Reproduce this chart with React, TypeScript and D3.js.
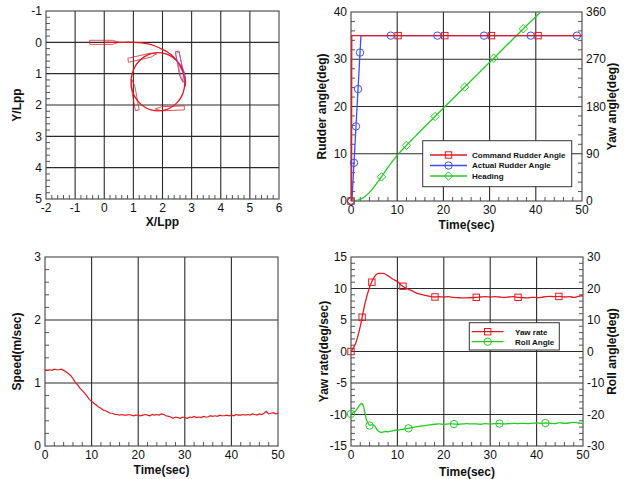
import React from "react";
import * as d3 from "d3";

// ---------------- Panel 1: trajectory ----------------
const trajectory: [number, number][] = [
  [0, 0], [0.5, 0], [1.0, 0.0], [1.3, 0.02], [1.62, 0.07], [1.92, 0.19], [2.17, 0.31], [2.37, 0.46],
  [2.52, 0.62], [2.63, 0.8], [2.72, 1.0], [2.76, 1.2], [2.75, 1.45], [2.655, 1.725], [2.508, 1.918],
  [2.315, 2.065], [2.091, 2.158], [1.85, 2.19], [1.609, 2.158], [1.385, 2.065], [1.192, 1.918],
  [1.045, 1.725], [0.952, 1.501], [0.92, 1.26], [0.952, 1.019], [1.045, 0.795], [1.192, 0.602],
  [1.385, 0.455], [1.609, 0.362], [1.85, 0.33], [2.091, 0.362], [2.32, 0.46], [2.51, 0.61],
  [2.66, 0.8], [2.76, 1.03], [2.79, 1.27], [2.77, 1.42],
];
const shipX = [0, 2.6, 2.25, 1.04, 1.31, 2.63];
const shipY = [0, 0.78, 2.11, 1.68, 0.47, 0.82];
const shipHeading = [0, 79, 178, 259, 348, 76];
const trajXTicks = [-2, -1, 0, 1, 2, 3, 4, 5, 6];
const trajYTicks = [-1, 0, 1, 2, 3, 4, 5];

// ---------------- Panel 2: rudder / heading ----------------
const cmdTime = [0, 0.12, 0.16, 50];
const cmdAngle = [0, 0, 35, 35];
const cmdMarkT = [0, 10.2, 20.3, 30.4, 40.5];
const actTime = [0, 0.2, 2.15, 50];
const actAngle = [0, 0, 35, 35];
const actMarkT = [0, 0.65, 1.08, 1.52, 1.95, 8.6, 18.7, 28.8, 38.9, 48.9];
const headTime = [0, 1, 2, 3, 4, 5, 6, 6.6, 8, 10, 12, 14, 16, 18.2, 20, 24.6, 30.9, 37.3, 41.5];
const headAngle = [0, 0.6, 3, 8.5, 16.5, 27, 39, 46, 64, 87, 106, 124, 142, 161, 177, 217, 272, 328, 364];
const headMarkT = [0, 6.6, 12.0, 18.2, 24.6, 30.9, 37.3];
const timeTicks = [0, 10, 20, 30, 40, 50];
const rudderTicks = [0, 10, 20, 30, 40];
const yawTicks = [0, 90, 180, 270, 360];

// ---------------- Panel 3: speed ----------------
const speedTime = d3.range(0, 50.001, 0.5);
const speedValues = [
  1.21, 1.20, 1.21, 1.20, 1.22, 1.21, 1.21, 1.22, 1.20, 1.18,
  1.15, 1.12, 1.07, 1.01, 0.97, 0.92, 0.88, 0.84, 0.79, 0.74,
  0.71, 0.68, 0.65, 0.62, 0.60, 0.57, 0.56, 0.54, 0.52, 0.52,
  0.50, 0.50, 0.49, 0.50, 0.49, 0.49, 0.50, 0.49, 0.48, 0.49,
  0.49, 0.48, 0.49, 0.50, 0.49, 0.48, 0.50, 0.49, 0.50, 0.49,
  0.51, 0.50, 0.48, 0.47, 0.46, 0.44, 0.46, 0.45, 0.44, 0.46,
  0.45, 0.44, 0.46, 0.45, 0.47, 0.45, 0.46, 0.45, 0.47, 0.46,
  0.46, 0.48, 0.47, 0.48, 0.47, 0.49, 0.48, 0.48, 0.49, 0.48,
  0.49, 0.48, 0.50, 0.49, 0.49, 0.50, 0.49, 0.50, 0.49, 0.51,
  0.50, 0.49, 0.51, 0.50, 0.52, 0.55, 0.51, 0.52, 0.53, 0.51,
  0.52,
];
const speedTicks = [0, 1, 2, 3];

// ---------------- Panel 4: yaw rate / roll ----------------
const yawRateTime = d3.range(0, 50.001, 1);
const yawRateValues = [
  0, 1.3, 4.0, 7.6, 10.2, 11.8, 12.4, 12.4, 12.0, 11.5,
  11.1, 10.45, 10.0, 9.7, 9.3, 9.1, 8.9, 8.75, 8.65, 8.7,
  8.65, 8.7, 8.6, 8.55, 8.5, 8.5, 8.55, 8.6, 8.65, 8.7,
  8.65, 8.7, 8.65, 8.6, 8.65, 8.7, 8.6, 8.55, 8.5, 8.6,
  8.55, 8.6, 8.7, 8.75, 8.7, 8.75, 8.65, 8.7, 8.6, 8.75,
  8.85,
];
const yawRateMarkT = [0, 2.4, 4.5, 11.2, 18.1, 27, 36, 44.8];
const rollTime = [0, 0.5, 1, 1.5, 2, 2.3, 2.7, 3, 3.3, 3.7, 4, 4.5, 5, 5.5, 6, 6.5, 7, 7.5, 8, 8.5, 9, 9.5, 10,
  11, 12, 13, 14, 15, 16, 17, 18, 19, 20, 21, 22, 23, 24, 25, 26, 27, 28, 29, 30, 31, 32, 33, 34, 35, 36, 37,
  38, 39, 40, 41, 42, 43, 44, 45, 46, 47, 48, 49, 50];
const rollValues = [-19.8, -19.4, -18.8, -17.8, -16.8, -16.5, -17.5, -19.5, -21.5, -22.8, -23.5, -23.2, -23.4,
  -24.6, -25.4, -25.7, -25.5, -25.4, -25.5, -25.3, -25.2, -25.0, -25.0,
  -24.7, -24.5, -24.2, -23.9, -23.7, -23.5, -23.3, -23.1, -23.0, -23.1, -23.0, -23.0, -23.1, -23.0, -22.9,
  -23.0, -23.0, -23.1, -22.9, -23.0, -22.9, -22.9, -23.0, -22.9, -22.8, -22.9, -22.8, -22.9, -22.8, -22.7,
  -22.8, -22.7, -22.8, -22.9, -22.6, -22.8, -22.7, -22.5, -22.7, -22.8];
const rollMarkT = [0, 4, 12.4, 22.2, 32, 41.9];
const yawRateTicks = [-15, -10, -5, 0, 5, 10, 15];
const rollTicks = [-30, -20, -10, 0, 10, 20, 30];

// ---------------- styling ----------------
const FONT = "'Liberation Sans', Arial, Helvetica, sans-serif";
const RED = "#e3191f";
const BLUE = "#3d4dff";
const GREEN = "#22cc22";
const GRID = "#2b2b2b";

type Box = { l: number; r: number; t: number; b: number };

function Axes(p: {
  box: Box; x: any; y: any; y2?: any;
  xTicks: number[]; yTicks: number[]; y2Ticks?: number[];
  xMinor: number; yMinor: number; y2Minor?: number;
  xTitle: string; yTitle: string; y2Title?: string;
  xTitleY: number; yTitleX: number; y2TitleX?: number;
}) {
  const { box, x, y, y2 } = p;
  const minor = (sc: any, step: number, majors: number[]) => {
    const [a, b] = sc.domain();
    const lo = Math.min(a, b), hi = Math.max(a, b);
    return d3.range(lo, hi + 1e-9, step).filter((v) => !majors.some((m) => Math.abs(m - v) < 1e-6));
  };
  const midX = (box.l + box.r) / 2;
  const midY = (box.t + box.b) / 2;
  return (
    <g fontFamily={FONT}>
      {p.xTicks.slice(1, -1).map((v) => (
        <line key={"gx" + v} x1={x(v)} x2={x(v)} y1={box.t} y2={box.b} stroke={GRID} strokeWidth={1.1} />
      ))}
      {p.yTicks.slice(1, -1).map((v) => (
        <line key={"gy" + v} x1={box.l} x2={box.r} y1={y(v)} y2={y(v)} stroke={GRID} strokeWidth={1.1} />
      ))}
      {minor(x, p.xMinor, p.xTicks).map((v) => (
        <line key={"mx" + v} x1={x(v)} x2={x(v)} y1={box.b} y2={box.b - 4} stroke={GRID} strokeWidth={0.8} />
      ))}
      {minor(y, p.yMinor, p.yTicks).map((v) => (
        <line key={"my" + v} x1={box.l} x2={box.l + 4} y1={y(v)} y2={y(v)} stroke={GRID} strokeWidth={0.8} />
      ))}
      {y2 && p.y2Ticks && p.y2Minor &&
        minor(y2, p.y2Minor, p.y2Ticks).map((v) => (
          <line key={"my2" + v} x1={box.r} x2={box.r - 4} y1={y2(v)} y2={y2(v)} stroke={GRID} strokeWidth={0.8} />
        ))}
      <rect x={box.l} y={box.t} width={box.r - box.l} height={box.b - box.t} fill="none" stroke="#444" strokeWidth={1.1} />
      {p.xTicks.map((v) => (
        <text key={"tx" + v} x={x(v)} y={box.b + 12.5} fontSize={12} textAnchor="middle" fill="#111">{v}</text>
      ))}
      {p.yTicks.map((v) => (
        <text key={"ty" + v} x={box.l - 4} y={y(v)} dy="0.35em" fontSize={12} textAnchor="end" fill="#111">{v}</text>
      ))}
      {y2 && p.y2Ticks &&
        p.y2Ticks.map((v) => (
          <text key={"ty2" + v} x={box.r + 4} y={y2(v)} dy="0.35em" fontSize={12} textAnchor="start" fill="#111">{v}</text>
        ))}
      <text x={midX} y={p.xTitleY} dy="0.35em" fontSize={12} fontWeight="bold" textAnchor="middle" fill="#111">{p.xTitle}</text>
      <text transform={`translate(${p.yTitleX},${midY}) rotate(-90)`} dy="0.35em" fontSize={12} fontWeight="bold" textAnchor="middle" fill="#111">{p.yTitle}</text>
      {p.y2Title && (
        <text transform={`translate(${p.y2TitleX},${midY}) rotate(-90)`} dy="0.35em" fontSize={12} fontWeight="bold" textAnchor="middle" fill="#111">{p.y2Title}</text>
      )}
    </g>
  );
}

const Sq = ({ cx, cy, c }: any) => <rect x={cx - 3.2} y={cy - 3.2} width={6.4} height={6.4} fill="none" stroke={c} strokeWidth={1} />;
const Ci = ({ cx, cy, c }: any) => <circle cx={cx} cy={cy} r={3.7} fill="none" stroke={c} strokeWidth={1} />;
const Di = ({ cx, cy, c }: any) => <path d={`M${cx},${cy - 4.2}L${cx + 4.2},${cy}L${cx},${cy + 4.2}L${cx - 4.2},${cy}Z`} fill="none" stroke={c} strokeWidth={1} />;

export default function App() {
  // ---- Panel 1 ----
  const b1: Box = { l: 46, r: 279, t: 11, b: 199 };
  const x1 = d3.scaleLinear().domain([-2, 6]).range([b1.l, b1.r]);
  const y1 = d3.scaleLinear().domain([-1, 5]).range([b1.t, b1.b]);
  const trajLine = d3.line<[number, number]>().x((d) => x1(d[0])).y((d) => y1(d[1])).curve(d3.curveCatmullRom);
  const hull: [number, number][] = [[-0.5, -0.065], [0.28, -0.065], [0.5, 0], [0.28, 0.065], [-0.5, 0.065]];
  const shipPath = (i: number) => {
    const a = (shipHeading[i] * Math.PI) / 180;
    const pts = hull.map(([lx, ly]) => [
      x1(shipX[i] + lx * Math.cos(a) - ly * Math.sin(a)),
      y1(shipY[i] + lx * Math.sin(a) + ly * Math.cos(a)),
    ]);
    return "M" + pts.map((q) => q.join(",")).join("L") + "Z";
  };

  // ---- Panel 2 ----
  const b2: Box = { l: 351, r: 582, t: 12, b: 201 };
  const x2 = d3.scaleLinear().domain([0, 50]).range([b2.l, b2.r]);
  const y2 = d3.scaleLinear().domain([0, 40]).range([b2.b, b2.t]);
  const y2r = d3.scaleLinear().domain([0, 360]).range([b2.b, b2.t]);
  const cmdInterp = d3.scaleLinear().domain(cmdTime).range(cmdAngle);
  const actInterp = d3.scaleLinear().domain(actTime).range(actAngle);
  const headInterp = d3.scaleLinear().domain(headTime).range(headAngle);
  const lineXY = (xs: any, ys: any, tt: number[], vv: number[], curve: any = d3.curveLinear) =>
    d3.line<number>().x((_, i) => xs(tt[i])).y((_, i) => ys(vv[i])).curve(curve)(vv) || "";

  // ---- Panel 3 ----
  const b3: Box = { l: 45, r: 278, t: 257, b: 446 };
  const x3 = d3.scaleLinear().domain([0, 50]).range([b3.l, b3.r]);
  const y3 = d3.scaleLinear().domain([0, 3]).range([b3.b, b3.t]);

  // ---- Panel 4 ----
  const b4: Box = { l: 351, r: 583, t: 257, b: 446 };
  const x4 = d3.scaleLinear().domain([0, 50]).range([b4.l, b4.r]);
  const y4 = d3.scaleLinear().domain([-15, 15]).range([b4.b, b4.t]);
  const y4r = d3.scaleLinear().domain([-30, 30]).range([b4.b, b4.t]);
  const yawInterp = d3.scaleLinear().domain(yawRateTime).range(yawRateValues);
  const rollInterp = d3.scaleLinear().domain(rollTime).range(rollValues);

  return (
    <svg width={630} height={479} style={{ position: "absolute", left: 0, top: 0, background: "#fff" }}>
      <defs>
        <clipPath id="c2"><rect x={b2.l} y={b2.t} width={b2.r - b2.l} height={b2.b - b2.t} /></clipPath>
        <clipPath id="c4"><rect x={b4.l} y={b4.t} width={b4.r - b4.l} height={b4.b - b4.t} /></clipPath>
      </defs>
      <rect width={630} height={479} fill="#fff" />

      {/* Panel 1 */}
      <Axes box={b1} x={x1} y={y1} xTicks={trajXTicks} yTicks={trajYTicks} xMinor={0.2} yMinor={0.2}
        xTitle="X/Lpp" yTitle="Y/Lpp" xTitleY={222} yTitleX={17} />
      <path d={trajLine(trajectory) || ""} fill="none" stroke={RED} strokeWidth={1.3} />
      {shipX.map((_, i) => (
        <path key={"ship" + i} d={shipPath(i)} fill="none" stroke={i === 5 ? "#8a5adf" : RED} strokeWidth={0.9} strokeOpacity={0.85} />
      ))}

      {/* Panel 2 */}
      <Axes box={b2} x={x2} y={y2} y2={y2r} xTicks={timeTicks} yTicks={rudderTicks} y2Ticks={yawTicks}
        xMinor={2} yMinor={2} y2Minor={18} xTitle="Time(sec)" yTitle="Rudder angle(deg)" y2Title="Yaw angle(deg)"
        xTitleY={225} yTitleX={321.5} y2TitleX={611.5} />
      <g clipPath="url(#c2)">
        <path d={lineXY(x2, y2r, headTime, headAngle, d3.curveMonotoneX)} fill="none" stroke={GREEN} strokeWidth={1.3} />
        <path d={lineXY(x2, y2, actTime, actAngle)} fill="none" stroke={BLUE} strokeWidth={1.3} />
        <path d={lineXY(x2, y2, cmdTime, cmdAngle)} fill="none" stroke={RED} strokeWidth={1.3} />
      </g>
      {headMarkT.map((t) => <Di key={"hm" + t} cx={x2(t)} cy={y2r(headInterp(t))} c={GREEN} />)}
      {actMarkT.map((t) => <Ci key={"am" + t} cx={x2(t)} cy={y2(actInterp(t))} c={BLUE} />)}
      {cmdMarkT.map((t) => <Sq key={"cm" + t} cx={x2(t)} cy={y2(cmdInterp(t))} c={RED} />)}
      <g fontFamily={FONT}>
        <rect x={422.7} y={140.7} width={149} height={46} fill="#fff" stroke="#333" strokeWidth={1} />
        {[
          { label: "Command Rudder Angle", c: RED, M: Sq },
          { label: "Actual Rudder Angle", c: BLUE, M: Ci },
          { label: "Heading", c: GREEN, M: Di },
        ].map((e, i) => {
          const yy = 155 + i * 10.5;
          const M = e.M;
          return (
            <g key={e.label}>
              <line x1={430} x2={467} y1={yy} y2={yy} stroke={e.c} strokeWidth={1.3} />
              <M cx={448.5} cy={yy} c={e.c} />
              <text x={472} y={yy} dy="0.35em" fontSize={8} fontWeight="bold" fill="#111">{e.label}</text>
            </g>
          );
        })}
      </g>

      {/* Panel 3 */}
      <Axes box={b3} x={x3} y={y3} xTicks={timeTicks} yTicks={speedTicks} xMinor={2} yMinor={0.2}
        xTitle="Time(sec)" yTitle="Speed(m/sec)" xTitleY={470} yTitleX={17} />
      <path d={lineXY(x3, y3, speedTime, speedValues)} fill="none" stroke={RED} strokeWidth={1.2} />

      {/* Panel 4 */}
      <Axes box={b4} x={x4} y={y4} y2={y4r} xTicks={timeTicks} yTicks={yawRateTicks} y2Ticks={rollTicks}
        xMinor={2} yMinor={1} y2Minor={2} xTitle="Time(sec)" yTitle="Yaw rate(deg/sec)" y2Title="Roll angle(deg)"
        xTitleY={471.5} yTitleX={323.3} y2TitleX={611.7} />
      <g clipPath="url(#c4)">
        <path d={lineXY(x4, y4, yawRateTime, yawRateValues, d3.curveMonotoneX)} fill="none" stroke={RED} strokeWidth={1.3} />
        <path d={lineXY(x4, y4r, rollTime, rollValues, d3.curveMonotoneX)} fill="none" stroke={GREEN} strokeWidth={1.3} />
      </g>
      {yawRateMarkT.map((t) => <Sq key={"ym" + t} cx={x4(t)} cy={y4(yawInterp(t))} c={RED} />)}
      {rollMarkT.map((t) => <Ci key={"rm" + t} cx={x4(t)} cy={y4r(rollInterp(t))} c={GREEN} />)}
      <g fontFamily={FONT}>
        <rect x={469.3} y={322.7} width={90} height={27.3} fill="#fff" stroke="#333" strokeWidth={1} />
        {[
          { label: "Yaw rate", c: RED, M: Sq },
          { label: "Roll Angle", c: GREEN, M: Ci },
        ].map((e, i) => {
          const yy = 331.7 + i * 10;
          const M = e.M;
          return (
            <g key={e.label}>
              <line x1={471.7} x2={503.5} y1={yy} y2={yy} stroke={e.c} strokeWidth={1.3} />
              <M cx={487.7} cy={yy} c={e.c} />
              <text x={515} y={yy} dy="0.35em" fontSize={8} fontWeight="bold" fill="#111">{e.label}</text>
            </g>
          );
        })}
      </g>
    </svg>
  );
}
